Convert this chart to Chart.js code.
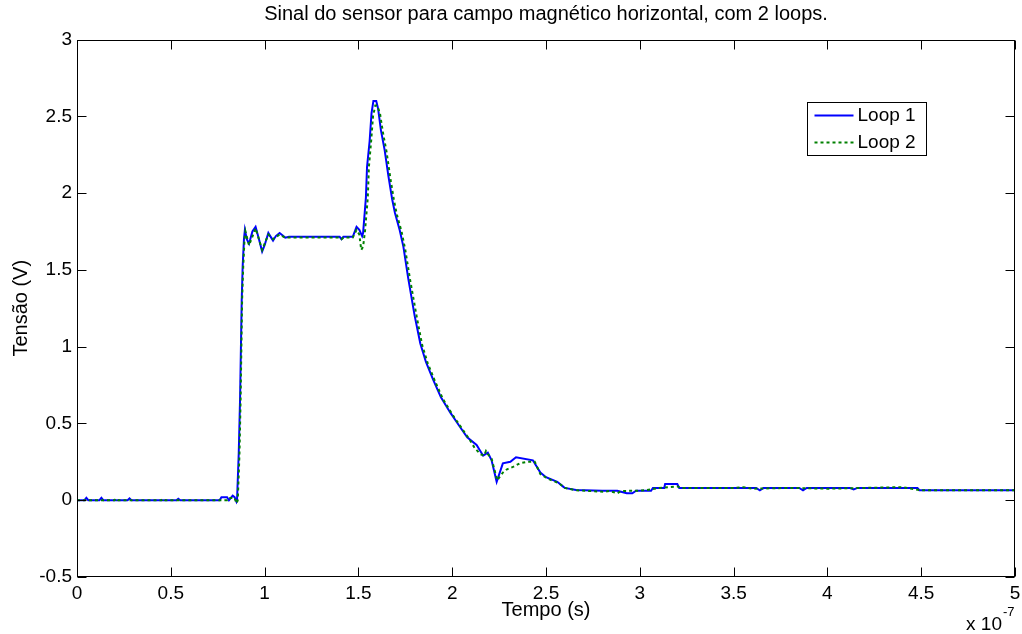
<!DOCTYPE html>
<html><head><meta charset="utf-8">
<script src="https://cdn.jsdelivr.net/npm/chart.js@4"></script>
<style>html,body{margin:0;padding:0;background:#fff;overflow:hidden}#wrap{width:1022px;height:634px;position:relative}</style>
</head><body><div id="wrap"><canvas id="c" width="1022" height="634"></canvas></div>
<script>
// Time values in units of 1e-7 s
const timeLoop1 = [0,0.04,0.05,0.06,0.12,0.13,0.14,0.27,0.28,0.29,0.53,0.54,0.55,0.76,0.77,0.80,0.81,0.83,0.84,0.85,0.853,0.862,0.869,0.878,0.883,0.89,0.895,0.905,0.917,0.935,0.952,0.97,0.987,1.00,1.02,1.035,1.045,1.06,1.08,1.10,1.11,1.13,1.40,1.41,1.42,1.47,1.49,1.505,1.52,1.525,1.54,1.546,1.56,1.57,1.58,1.595,1.605,1.62,1.64,1.66,1.68,1.695,1.72,1.74,1.765,1.80,1.83,1.86,1.90,1.94,1.99,2.04,2.08,2.13,2.165,2.19,2.21,2.237,2.27,2.31,2.34,2.43,2.47,2.50,2.56,2.59,2.60,2.66,2.80,2.88,2.93,2.96,2.98,3.06,3.07,3.13,3.135,3.20,3.21,3.62,3.64,3.66,3.85,3.87,3.89,4.12,4.14,4.16,4.48,4.49,5.0];
const voltLoop1 = [0,0,0.015,0,0,0.015,0,0,0.012,0,0,0.01,0,0,0.02,0.02,0,0.03,0.02,-0.01,0,0.30,0.65,1.30,1.52,1.70,1.76,1.70,1.67,1.75,1.78,1.70,1.62,1.66,1.74,1.71,1.69,1.72,1.74,1.72,1.71,1.715,1.715,1.70,1.715,1.715,1.78,1.76,1.72,1.74,1.97,2.17,2.34,2.52,2.60,2.60,2.55,2.41,2.28,2.11,1.96,1.87,1.76,1.65,1.45,1.20,1.02,0.90,0.78,0.67,0.57,0.48,0.41,0.36,0.29,0.31,0.26,0.12,0.24,0.25,0.28,0.26,0.18,0.15,0.12,0.09,0.08,0.066,0.062,0.062,0.045,0.045,0.062,0.062,0.08,0.08,0.105,0.105,0.08,0.08,0.065,0.08,0.08,0.065,0.08,0.08,0.07,0.08,0.08,0.065,0.065];
const timeLoop2 = [0,0.20,0.21,0.22,0.45,0.46,0.47,0.80,0.81,0.84,0.85,0.857,0.866,0.872,0.88,0.886,0.893,0.898,0.917,0.952,0.987,1.02,1.045,1.08,1.11,1.40,1.41,1.42,1.47,1.49,1.505,1.515,1.525,1.535,1.55,1.556,1.568,1.578,1.59,1.60,1.615,1.63,1.65,1.67,1.69,1.705,1.73,1.75,1.775,1.81,1.84,1.87,1.91,1.95,2.00,2.05,2.09,2.12,2.15,2.17,2.18,2.19,2.21,2.24,2.27,2.29,2.33,2.36,2.40,2.44,2.47,2.51,2.57,2.60,2.66,2.81,2.84,2.88,2.90,3.00,3.06,3.10,3.20,3.22,3.50,3.55,3.60,3.80,4.00,4.20,4.40,4.45,4.50,5.0];
const voltLoop2 = [0,0,0.012,0,0,0.01,0,0,0.015,0.015,-0.02,0,0.30,0.65,1.30,1.52,1.70,1.75,1.66,1.77,1.63,1.73,1.70,1.73,1.71,1.71,1.70,1.71,1.71,1.76,1.73,1.63,1.65,1.75,1.97,2.17,2.34,2.50,2.57,2.57,2.52,2.40,2.27,2.10,1.95,1.86,1.75,1.63,1.44,1.20,1.01,0.89,0.77,0.66,0.56,0.47,0.40,0.34,0.30,0.29,0.32,0.30,0.27,0.13,0.18,0.20,0.22,0.24,0.25,0.25,0.17,0.14,0.11,0.08,0.065,0.055,0.06,0.045,0.06,0.062,0.07,0.08,0.09,0.08,0.08,0.085,0.075,0.08,0.075,0.08,0.085,0.075,0.065,0.065];
const xTickStep = 0.5, xMin = 0, xMax = 5;
const yTickStep = 0.5, yMin = -0.5, yMax = 3;
const seriesNames = ['Loop 1', 'Loop 2'];
const titleText = 'Sinal do sensor para campo magnético horizontal, com 2 loops.';
const xTitle = 'Tempo (s)';
const yTitle = 'Tensão (V)';
const expBase = 'x 10', expPow = '-7';

const FONT = "'Liberation Sans', Arial, Helvetica, sans-serif";
const toPts = (t, v) => t.map((x, i) => ({x, y: v[i]}));
const fmt = v => String(+Number(v).toFixed(3));

const framePlugin = {
  id: 'frame',
  afterLayout(chart) {
    const tb = chart.titleBlock, a = chart.chartArea;
    if (tb && a) { tb.left = a.left; tb.right = a.right; tb.width = a.right - a.left; }
  },
  afterDatasetsDraw(chart) {
    const {ctx, chartArea: a, scales: {x, y}} = chart;
    ctx.save();
    ctx.strokeStyle = '#000';
    ctx.lineWidth = 1;
    const L = Math.round(a.left) + 0.5, R = Math.round(a.right) - 0.5;
    const T = Math.round(a.top) + 0.5, B = Math.round(a.bottom) - 0.5;
    ctx.strokeRect(L, T, R - L, B - T);
    const tl = 9;
    ctx.beginPath();
    x.ticks.forEach(t => {
      const px = Math.round(x.getPixelForValue(t.value)) + 0.5;
      ctx.moveTo(px, B); ctx.lineTo(px, B - tl);
      ctx.moveTo(px, T); ctx.lineTo(px, T + tl);
    });
    y.ticks.forEach(t => {
      const py = Math.round(y.getPixelForValue(t.value)) + 0.5;
      ctx.moveTo(L, py); ctx.lineTo(L + tl, py);
      ctx.moveTo(R, py); ctx.lineTo(R - tl, py);
    });
    ctx.stroke();

    // legend
    const lx = 807.5, ly = 102.5, lw = 119, lh = 53;
    ctx.fillStyle = '#fff';
    ctx.fillRect(lx, ly, lw, lh);
    ctx.strokeRect(lx, ly, lw, lh);
    ctx.font = '19px ' + FONT;
    ctx.textBaseline = 'middle';
    ctx.textAlign = 'left';
    chart.data.datasets.forEach((ds, i) => {
      const yy = ly + 13 + i * 27;
      ctx.save();
      ctx.strokeStyle = ds.borderColor;
      ctx.lineWidth = ds.borderWidth;
      ctx.setLineDash(ds.borderDash || []);
      ctx.beginPath();
      ctx.moveTo(lx + 7, yy); ctx.lineTo(lx + 46, yy);
      ctx.stroke();
      ctx.restore();
      ctx.fillStyle = '#000';
      ctx.fillText(ds.label, lx + 50, yy);
    });

    // exponent
    ctx.fillStyle = '#000';
    ctx.textAlign = 'right';
    ctx.font = '19px ' + FONT;
    ctx.fillText(expBase, 1002, 625);
    ctx.textAlign = 'left';
    ctx.font = '13px ' + FONT;
    ctx.fillText(expPow, 1003, 612);
    ctx.restore();
  }
};

new Chart(document.getElementById('c'), {
  type: 'line',
  data: {
    datasets: [
      {label: seriesNames[0], data: toPts(timeLoop1, voltLoop1), borderColor: '#0000ff', borderWidth: 2, pointRadius: 0, tension: 0, order: 1},
      {label: seriesNames[1], data: toPts(timeLoop2, voltLoop2), borderColor: '#008000', borderWidth: 2, borderDash: [3, 3], pointRadius: 0, tension: 0, order: 0}
    ]
  },
  options: {
    responsive: false,
    animation: false,
    devicePixelRatio: 1,
    layout: {padding: {left: 0, right: 7, top: 0, bottom: 0}},
    plugins: {
      legend: {display: false},
      tooltip: {enabled: false},
      title: {display: true, text: titleText, color: '#000', font: {family: FONT, size: 20, weight: 'normal'}, padding: {top: 2, bottom: 13.5}}
    },
    scales: {
      x: {
        type: 'linear', min: xMin, max: xMax,
        grid: {display: false, drawTicks: false},
        border: {display: false},
        ticks: {stepSize: xTickStep, color: '#000', font: {family: FONT, size: 19}, padding: 5, maxRotation: 0, callback: fmt},
        title: {display: true, text: xTitle, color: '#000', font: {family: FONT, size: 20}, padding: {top: 0, bottom: 12}},
        afterFit(s) { s.height = 57; s.paddingLeft = 0; s.paddingRight = 0; }
      },
      y: {
        type: 'linear', min: yMin, max: yMax,
        grid: {display: false, drawTicks: false},
        border: {display: false},
        ticks: {stepSize: yTickStep, color: '#000', font: {family: FONT, size: 19}, padding: 5, callback: fmt},
        title: {display: true, text: yTitle, color: '#000', font: {family: FONT, size: 20}, padding: {top: 9, bottom: 0}},
        afterFit(s) { s.width = 77; }
      }
    }
  },
  plugins: [framePlugin]
});
</script></body></html>
